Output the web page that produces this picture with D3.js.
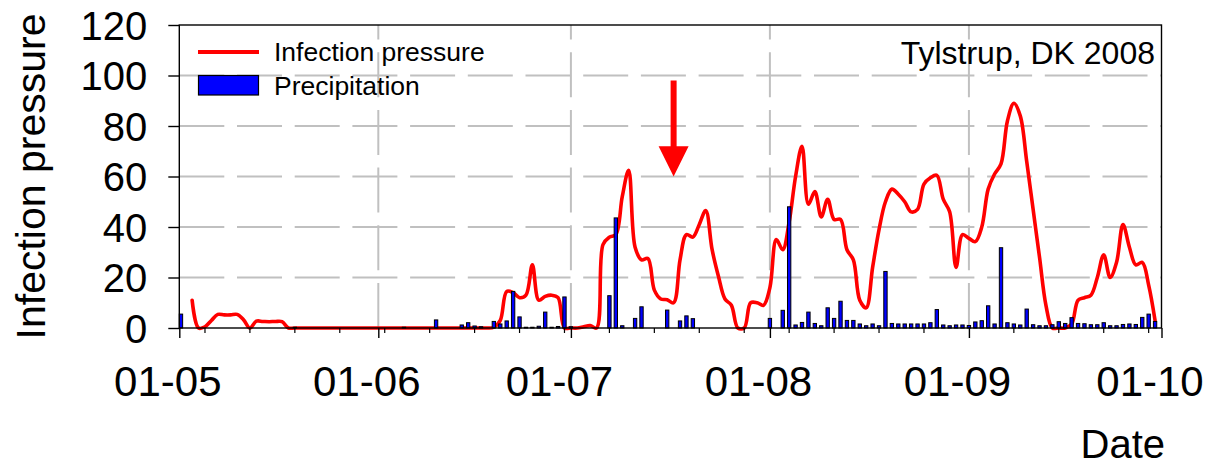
<!DOCTYPE html>
<html>
<head>
<meta charset="utf-8">
<script src="https://cdn.jsdelivr.net/npm/d3@7"></script>
<style>
  html, body { margin: 0; padding: 0; background: #ffffff; }
  svg { display: block; font-family: "Liberation Sans", Arial, sans-serif; }
</style>
</head>
<body>
<svg id="chart" width="1209" height="467"></svg>
<script>
// ---------------- data ----------------
const startDate = "2008-05-01";
const endDate = "2008-10-01";
const monthTickLabels = ["01-05", "01-06", "01-07", "01-08", "01-09", "01-10"];
const yTicks = [0, 20, 40, 60, 80, 100, 120];
const seriesNames = ["Infection pressure", "Precipitation"];
const siteLabel = "Tylstrup, DK 2008";
const xTitle = "Date";
const yTitle = "Infection pressure";
const arrowDate = "2008-07-17";
const arrowValues = [98, 72, 60]; // shaft top, head base, tip

// daily precipitation from 1 May 2008
const precipitation = [
  5.5, 0, 0, 0, 0, 0, 0, 0, 0, 0,
  0, 0, 0, 0, 0, 0, 0, 0, 0.3, 0,
  0, 0, 0, 0, 0, 0, 0, 0, 0, 0,
  0, 0, 0, 0, 0, 0.3, 0, 0, 0, 0,
  3.2, 0, 0, 0, 1.2, 2.1, 0.8, 0.5, 0, 2.6,
  1.6, 2.8, 14.5, 4.4, 0.3, 0.3, 0.7, 6.3, 0.3, 0.6,
  12.3, 0.5, 0, 0, 0, 0, 0, 12.8, 43.6, 0.9,
  0, 3.8, 8.4, 0, 0, 0, 7.1, 0, 2.8, 4.8,
  3.7, 0, 0, 0, 0, 0, 0, 0, 0, 0,
  0, 0, 3.8, 0, 7.0, 48, 1.2, 2.2, 6.3, 1.8,
  0.9, 8, 3.8, 10.6, 3, 3, 1.6, 0.9, 1.6, 0.9,
  22.4, 1.8, 1.6, 1.6, 1.6, 1.6, 1.6, 2.1, 7.3, 1.2,
  0.9, 1.2, 1.2, 1.0, 2.4, 2.9, 8.8, 1.6, 31.8, 2.1,
  1.6, 1.2, 7.5, 1.3, 0.9, 0.9, 1.3, 2.5, 1.8, 4.1,
  1.8, 1.7, 1.3, 1.3, 2.1, 0.9, 0.9, 1.4, 1.6, 1.4,
  4.2, 5.5, 2.6
];

// daily infection pressure from 1 May 2008
const infectionPressure = [
  null, null, 11, 0, 0.5, 3, 5.4, 5.2, 5.2, 5.4,
  3.3, 0, 2.7, 2.6, 2.5, 2.6, 2.5, 0, 0, 0,
  0, 0, 0, 0, 0, 0, 0, 0, 0, 0,
  0, 0, 0, 0, 0, 0, 0, 0, 0, 0,
  0, 0, 0, 0, 0, 0, 0, 0, 0, 0.3,
  3, 14.5, 14, 12, 13, 25, 11, 12.5, 13, 12,
  0, 0, 0, 0.5, 1, 0, 33, 36, 37, 52,
  62.5, 32, 27, 27.5, 15, 11.5, 11.2, 10, 27, 37,
  36, 41, 46.5, 31, 20.3, 11.5, 9, 0, 0, 10,
  10, 9, 16, 35, 31, 42, 60, 72, 49, 54,
  44, 51, 43, 43, 31, 27, 11, 8, 24, 39,
  50, 55, 53, 50, 46, 47, 57, 59.5, 60.5, 51,
  46, 24, 37, 35.5, 34.2, 40, 55, 61, 65, 82,
  89, 84, 66, 47, 28, 9, 0, 0, 0, 1.5,
  11, 12, 13, 20, 29, 20, 26, 41, 32, 25,
  26, 17, 3
];

// ---------------- chart ----------------
const svg = d3.select("#chart");
const parse = d3.utcParse("%Y-%m-%d");
const t0 = parse(startDate), t1 = parse(endDate);
const dates = precipitation.map((_, i) => d3.utcDay.offset(t0, i));

const x = d3.scaleUtc().domain([t0, t1]).range([179.3, 1161.5]);
const y = d3.scaleLinear().domain([0, 120]).range([328, 25]);
const X0 = x.range()[0], X1 = x.range()[1], Y0 = y(0), Y1 = y(120);

const monthDates = d3.utcMonth.range(t0, d3.utcDay.offset(t1, 1));
const mondayDates = d3.utcMonday.range(t0, t1).filter(d => d.getUTCDate() !== 1);

const grid = svg.append("g").attr("stroke", "#c0c0c0").attr("stroke-width", 2)
  .attr("stroke-dasharray", "45,12.7").attr("fill", "none");
grid.selectAll("line.h").data(yTicks.filter(v => v > 0 && v < 120)).join("line")
  .attr("class", "h")
  .attr("x1", X0).attr("x2", X1).attr("y1", d => y(d)).attr("y2", d => y(d));
grid.selectAll("line.v").data(monthDates.slice(1, -1)).join("line")
  .attr("class", "v")
  .attr("x1", d => x(d)).attr("x2", d => x(d)).attr("y1", Y0).attr("y2", Y1);

// infection pressure line
const lineData = infectionPressure.map((v, i) => ({ date: dates[i], v }));
const line = d3.line()
  .defined(d => d.v !== null)
  .x(d => x(d.date)).y(d => y(d.v))
  .curve(d3.curveCatmullRom.alpha(0.5));
svg.append("path").datum(lineData)
  .attr("d", line).attr("fill", "none")
  .attr("stroke", "#ff0000").attr("stroke-width", 3.6)
  .attr("stroke-linejoin", "round").attr("stroke-linecap", "round");

// precipitation bars
const dayPx = x(dates[1]) - x(dates[0]);
const bw = dayPx * 0.52;
svg.append("g").selectAll("rect")
  .data(precipitation.map((v, i) => ({ date: dates[i], v })).filter(d => d.v > 0))
  .join("rect")
  .attr("x", d => Math.max(X0, x(d.date) - bw / 2))
  .attr("width", bw)
  .attr("y", d => y(d.v))
  .attr("height", d => y(0) - y(d.v))
  .attr("fill", "#0000ff").attr("stroke", "#000").attr("stroke-width", 1);

// frame
svg.append("rect").attr("x", X0).attr("y", Y1).attr("width", X1 - X0).attr("height", Y0 - Y1)
  .attr("fill", "none").attr("stroke", "#000").attr("stroke-width", 1.4);

// y axis
const yAxis = svg.append("g").attr("transform", `translate(${X0},0)`)
  .call(d3.axisLeft(y).tickValues(yTicks).tickSize(11).tickPadding(21));
yAxis.select(".domain").remove();
yAxis.selectAll(".tick line").attr("stroke", "#000").attr("stroke-width", 1.4);
yAxis.selectAll(".tick text").attr("font-size", 40).attr("fill", "#000")
  .attr("font-family", "Liberation Sans, Arial, sans-serif").attr("dy", "0.36em");

// x axis: month ticks + weekly minor ticks
const xAxis = svg.append("g").attr("transform", `translate(0,${Y0})`)
  .call(d3.axisBottom(x).tickValues(monthDates).tickSize(10)
    .tickFormat((d, i) => monthTickLabels[i]).tickPadding(28));
xAxis.select(".domain").remove();
xAxis.selectAll(".tick line").attr("stroke", "#000").attr("stroke-width", 1.4);
xAxis.selectAll(".tick text").attr("font-size", 42).attr("fill", "#000")
  .attr("x", -12)
  .attr("font-family", "Liberation Sans, Arial, sans-serif").attr("dy", "0.71em");
svg.append("g").selectAll("line").data(mondayDates).join("line")
  .attr("x1", d => x(d)).attr("x2", d => x(d)).attr("y1", Y0).attr("y2", Y0 + 5)
  .attr("stroke", "#000").attr("stroke-width", 1.2);

// arrow
const ax = x(parse(arrowDate));
const sw = 3, hw = 15;
svg.append("path")
  .attr("d", `M${ax - sw},${y(arrowValues[0])} L${ax + sw},${y(arrowValues[0])} L${ax + sw},${y(arrowValues[1])}
    L${ax + hw},${y(arrowValues[1])} L${ax},${y(arrowValues[2])} L${ax - hw},${y(arrowValues[1])}
    L${ax - sw},${y(arrowValues[1])} Z`)
  .attr("fill", "#ff0000");

// legend
const lg = svg.append("g");
lg.append("line").attr("x1", 198).attr("x2", 259).attr("y1", 52).attr("y2", 52)
  .attr("stroke", "#ff0000").attr("stroke-width", 4);
lg.append("rect").attr("x", 198.5).attr("y", 75.5).attr("width", 60).attr("height", 19.5)
  .attr("fill", "#0000ff").attr("stroke", "#000").attr("stroke-width", 1.2);
lg.append("text").attr("x", 274).attr("y", 61).attr("font-size", 26.5).text(seriesNames[0]);
lg.append("text").attr("x", 274).attr("y", 95).attr("font-size", 26.5).text(seriesNames[1]);

// site label
svg.append("text").attr("x", 1155).attr("y", 64).attr("text-anchor", "end")
  .attr("font-size", 32).text(siteLabel);

// axis titles
svg.append("text").attr("x", 1165).attr("y", 458).attr("text-anchor", "end")
  .attr("font-size", 40).text(xTitle);
svg.append("text").attr("transform", "translate(45,176.5) rotate(-90)")
  .attr("text-anchor", "middle").attr("font-size", 41).text(yTitle);
</script>
</body>
</html>
